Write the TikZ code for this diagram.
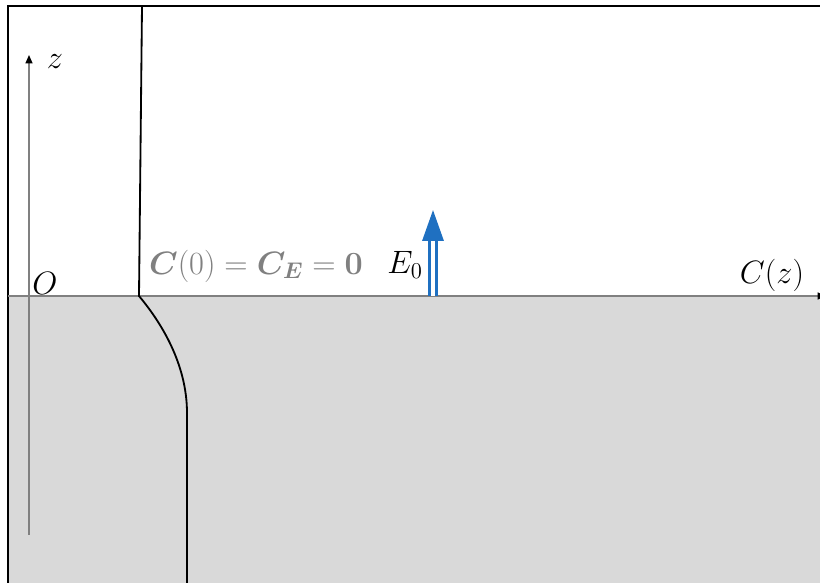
\documentclass[tikz,border=0pt]{standalone}
\usepackage{fix-cm}
\usepackage{amsmath,amssymb,bm}
\usepackage{xcolor}
\usetikzlibrary{arrows.meta,positioning}
\definecolor{fieldblue}{RGB}{31,112,193}
\definecolor{labelgray}{RGB}{128,128,128}
\definecolor{substrategray}{RGB}{217,217,217}

\begin{document}
\begin{tikzpicture}[
    x=0.025cm, y=0.025cm,
    frame/.style={draw, line width=1.4pt},
    substrate/.style={fill=substrategray},
    axis/.style={draw=black!50, line width=0.9pt, -{Triangle[length=6pt, width=5pt, color=black]}},
    boundary/.style={draw, line width=1.3pt},
    field/.style={draw=fieldblue, double=white, line width=2pt, double distance=2.6pt, -{Triangle[length=22pt, width=15pt]}},
    lbl/.style={font=\fontsize{23}{27}\selectfont, inner sep=1pt},
]
\useasboundingbox (0,0) rectangle (820,583);

% Substrate and frame
\fill[substrate] (8,0) rectangle (820,287);
\draw[frame] (8,0) -- (8,577) -- (820,577);

% Axes
\coordinate (xleft) at (8,287);
\coordinate (xright) at (826,287);
\coordinate (zbot) at (29,48);
\coordinate (ztop) at (29,528);
\draw[axis] (xleft) -- (xright);
\draw[axis] (zbot) -- (ztop);

% Boundary profile
\coordinate (btop) at (142,577);
\coordinate (bmid) at (139,287);
\coordinate (bknee) at (187,170);
\coordinate (bbot) at (187,0);
\draw[boundary] (btop) -- (bmid) .. controls (160,262) and (187,220) .. (bknee) -- (bbot);

% Applied field
\coordinate (e0base) at (433,287);
\coordinate (e0tip) at (433,373);
\draw[field] (e0base) -- (e0tip);

% Labels
\node[lbl] (zlabel) at (55,521) {$z$};
\node[lbl] (olabel) at (45,300) {$O$};
\node[lbl, text=labelgray] (celabel) at (256,317) {$\bm{C}(0)=\bm{C_E}=\mathbf{0}$};
\node[lbl] (e0label) at (405,318) {$E_0$};
\node[lbl] (czlabel) at (772,308) {$C(z)$};

\end{tikzpicture}
\end{document}
